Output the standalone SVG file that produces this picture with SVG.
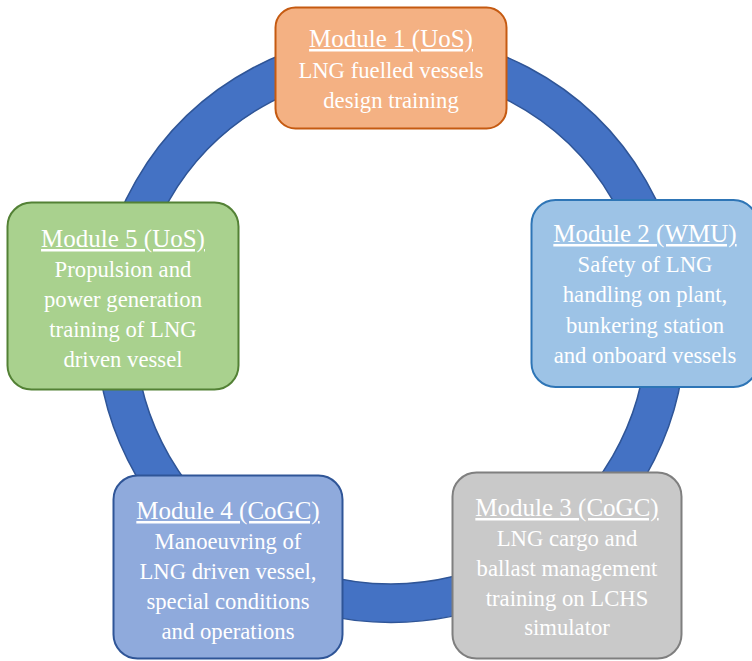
<svg xmlns="http://www.w3.org/2000/svg" width="752" height="661" viewBox="0 0 752 661">
<style>
.t{font-family:"Liberation Serif","Times New Roman",serif;fill:#ffffff;text-anchor:middle;font-size:22.7px}
.h{font-size:25px;text-decoration:underline}
.box{stroke-width:2}
</style>
<rect width="752" height="661" fill="#ffffff"/>
<g id="connectors">
<path d="M391,33.5 A294.5,294.5 0 1,1 390.99,33.5 Z M391,72 A256,256 0 1,0 391.01,72 Z" fill="#4472C4" fill-rule="evenodd" stroke="#2F5597" stroke-width="1.5"/>
</g>
<g id="module1">
<rect class="box" x="275.5" y="7.5" width="231" height="121" rx="20" fill="#F4B183" stroke="#C55A11"/>
<text class="t h" x="391" y="47">Module 1 (UoS)</text>
<text class="t" x="391" y="78">LNG fuelled vessels</text>
<text class="t" x="391" y="108">design training</text>
</g>
<g id="module2">
<rect class="box" x="531.5" y="200" width="226" height="187" rx="24" fill="#9DC3E6" stroke="#2E75B6"/>
<text class="t h" x="645" y="242">Module 2 (WMU)</text>
<text class="t" x="645" y="272">Safety of LNG</text>
<text class="t" x="645" y="302">handling on plant,</text>
<text class="t" x="645" y="333">bunkering station</text>
<text class="t" x="645" y="363">and onboard vessels</text>
</g>
<g id="module3">
<rect class="box" x="452.5" y="472.5" width="229" height="186" rx="24" fill="#C9C9C9" stroke="#7F7F7F"/>
<text class="t h" x="567" y="516">Module 3 (CoGC)</text>
<text class="t" x="567" y="546">LNG cargo and</text>
<text class="t" x="567" y="576">ballast management</text>
<text class="t" x="567" y="606">training on LCHS</text>
<text class="t" x="567" y="635">simulator</text>
</g>
<g id="module4">
<rect class="box" x="113.5" y="475.5" width="229" height="183" rx="24" fill="#8FAADC" stroke="#2F5597"/>
<text class="t h" x="228" y="519">Module 4 (CoGC)</text>
<text class="t" x="228" y="549">Manoeuvring of</text>
<text class="t" x="228" y="579">LNG driven vessel,</text>
<text class="t" x="228" y="609">special conditions</text>
<text class="t" x="228" y="639">and operations</text>
</g>
<g id="module5">
<rect class="box" x="7.5" y="202.5" width="231" height="187" rx="24" fill="#A9D18E" stroke="#538135"/>
<text class="t h" x="123" y="247">Module 5 (UoS)</text>
<text class="t" x="123" y="277">Propulsion and</text>
<text class="t" x="123" y="307">power generation</text>
<text class="t" x="123" y="337">training of LNG</text>
<text class="t" x="123" y="367">driven vessel</text>
</g>
</svg>
